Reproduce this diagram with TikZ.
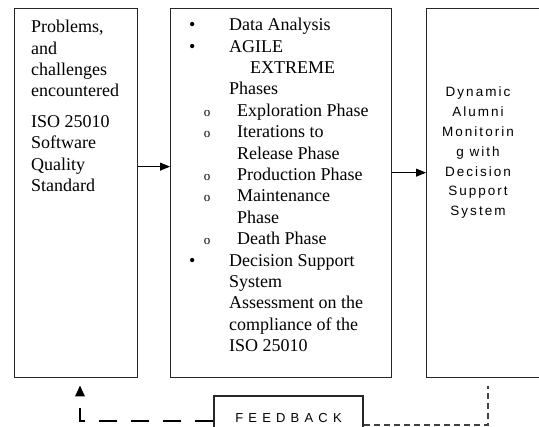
\documentclass[tikz,border=0pt]{standalone}
\usepackage{fontspec}
\setmainfont{Liberation Serif}
\newfontfamily\fbfont[LetterSpace=40]{Liberation Sans}
\newfontfamily\boxsans[LetterSpace=15]{Liberation Sans}
\usetikzlibrary{arrows.meta}
\newcommand{\blt}{\makebox[14pt]{\textbullet}}
\newcommand{\sblt}{\makebox[14pt]{\fontsize{13}{13}\selectfont o}}
\begin{document}
\begin{tikzpicture}[x=1pt,y=-1pt,
  box/.style={draw=black!85, line width=1.3pt, inner sep=0pt, anchor=north west},
  serif/.style={inner sep=0pt, anchor=north west, align=left, font=\fontsize{18}{21.4}\selectfont},
  sanstxt/.style={inner sep=0pt, align=center, font=\boxsans\fontsize{13.5}{19.8}\selectfont},
  arr/.style={line width=1pt, -{Triangle[length=10pt,width=8pt]}},
  fbdash/.style={line width=2.5pt, dash pattern=on 18pt off 14pt, -{Triangle[length=11pt,width=9pt]}, shorten >=7pt},
  thindash/.style={draw=black!75, line width=1.3pt, dash pattern=on 6pt off 4pt}]
\useasboundingbox (0,0) rectangle (539,427);
\clip (0,0) rectangle (539,427);
\fill[white] (0,0) rectangle (539,427);
% boxes
\node[box, minimum width=123pt, minimum height=369pt] (left) at (14,8) {};
\node[box, minimum width=221pt, minimum height=369pt] (mid) at (170,8) {};
\node[box, minimum width=134pt, minimum height=369pt] (right) at (426,8) {};
\node[draw=black!85, line width=2pt, minimum width=149pt, minimum height=44pt, inner sep=0pt,
      font=\fbfont\fontsize{13}{15}\selectfont] (fb) at (288.5,418) {FEEDBACK};
% texts
\node[serif] (lefttxt) at (31,20) {Problems,\\ and\\ challenges\\ encountered\\[9pt] ISO 25010\\ Software\\ Quality\\ Standard};
\node[serif] (midtxt) at (185,18) {%
\blt\hspace*{30pt}Data Analysis\\
\blt\hspace*{30pt}AGILE\\
\hspace*{65pt}EXTREME\\
\hspace*{44pt}Phases\\
\hspace*{15pt}\sblt\hspace*{23pt}Exploration Phase\\
\hspace*{15pt}\sblt\hspace*{23pt}Iterations to\\
\hspace*{52pt}Release Phase\\
\hspace*{15pt}\sblt\hspace*{23pt}Production Phase\\
\hspace*{15pt}\sblt\hspace*{23pt}Maintenance\\
\hspace*{52pt}Phase\\
\hspace*{15pt}\sblt\hspace*{23pt}Death Phase\\
\blt\hspace*{30pt}Decision Support\\
\hspace*{44pt}System\\
\hspace*{44pt}Assessment on the\\
\hspace*{44pt}compliance of the\\
\hspace*{44pt}ISO 25010};
\node[sanstxt, anchor=north] (righttxt) at (478,87) {Dynamic\\ Alumni\\ Monitorin\\ g with\\ Decision\\ Support\\ System};
% connectors
\draw[arr] ([yshift=26.5pt]left.east) -- ([yshift=26.5pt]mid.west);
\draw[arr] ([yshift=20.5pt]mid.east) -- ([yshift=20.5pt]right.west);
\coordinate (fbc) at (80,421);
\draw[fbdash] ([yshift=-3pt]fb.west) -- (fbc) -- (fbc |- left.south);
\coordinate (rc) at (488,425);
\draw[thindash] ([yshift=-7pt]fb.east) -- (rc) -- ([yshift=-8pt]rc |- right.south);
\end{tikzpicture}
\end{document}
